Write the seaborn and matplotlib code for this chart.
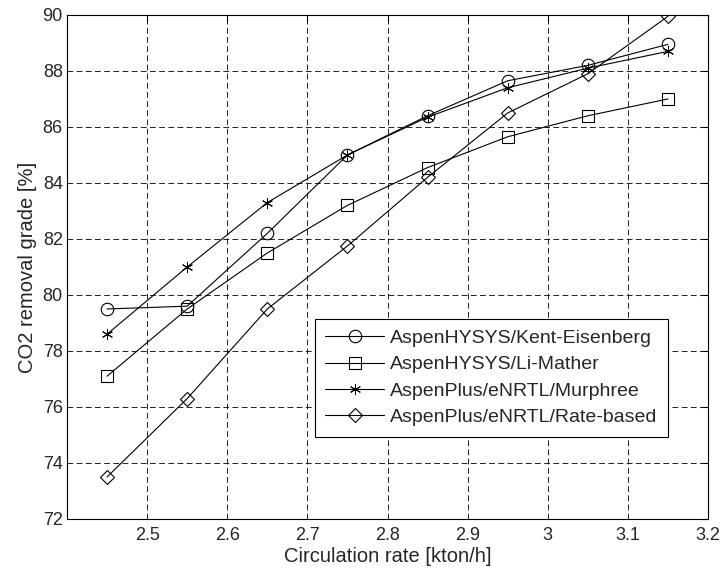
import matplotlib
matplotlib.use("Agg")
import matplotlib.pyplot as plt
import seaborn as sns
import pandas as pd

circulation_rate = [2.45, 2.55, 2.65, 2.75, 2.85, 2.95, 3.05, 3.15]
kent_eisenberg = [79.5, 79.6, 82.2, 85.0, 86.4, 87.65, 88.2, 88.95]
li_mather = [77.1, 79.5, 81.5, 83.2, 84.55, 85.65, 86.4, 87.0]
murphree = [78.6, 81.0, 83.3, 85.0, 86.35, 87.4, 88.1, 88.7]
rate_based = [73.5, 76.3, 79.5, 81.75, 84.2, 86.5, 87.9, 89.95]

series_names = ["AspenHYSYS/Kent-Eisenberg", "AspenHYSYS/Li-Mather",
                "AspenPlus/eNRTL/Murphree", "AspenPlus/eNRTL/Rate-based"]
series_values = [kent_eisenberg, li_mather, murphree, rate_based]
markers = ["o", "s", "*", "D"]
msizes = [9, 9, 8, 7]

x_ticks = [2.5, 2.6, 2.7, 2.8, 2.9, 3.0, 3.1, 3.2]
x_ticklabels = ["2.5", "2.6", "2.7", "2.8", "2.9", "3", "3.1", "3.2"]
y_ticks = [72, 74, 76, 78, 80, 82, 84, 86, 88, 90]

sns.set_style("white")
plt.rcParams['font.family'] = ['Liberation Sans', 'DejaVu Sans']

fig = plt.figure(figsize=(7.25, 5.75), dpi=100)
ax = fig.add_axes([0.0924, 0.0974, 0.8842, 0.8766])

for name, vals, mk, ms in zip(series_names, series_values, markers, msizes):
    df = pd.DataFrame({"x": circulation_rate, "y": vals})
    if mk == "*":
        sns.lineplot(data=df, x="x", y="y", ax=ax, color="black", lw=0.8,
                     marker=(6, 2, 0), markersize=ms, markeredgecolor="black",
                     markeredgewidth=0.7, label=name)
    else:
        sns.lineplot(data=df, x="x", y="y", ax=ax, color="black", lw=0.8,
                     marker=mk, markersize=ms, markerfacecolor="none",
                     markeredgecolor="black", markeredgewidth=0.8, label=name)

ax.set_xlim(2.4, 3.2)
ax.set_ylim(72, 90)
ax.set_xticks(x_ticks)
ax.set_xticklabels(x_ticklabels)
ax.set_yticks(y_ticks)
ax.grid(True, color="black", linestyle=(0, (7, 4)), linewidth=0.6)
ax.tick_params(direction="in", labelsize=13, length=4, color="black",
               top=True, right=True)
ax.tick_params(axis="x", pad=6)
ax.tick_params(axis="y", pad=3)
for s in ax.spines.values():
    s.set_color("black")
    s.set_linewidth(0.8)
ax.set_xlabel("Circulation rate [kton/h]", fontsize=14.5, labelpad=2)
ax.set_ylabel("CO2 removal grade [%]", fontsize=14.5, labelpad=4)

leg = ax.legend(loc="lower right", bbox_to_anchor=(0.937, 0.163), fontsize=14,
                frameon=True, fancybox=False, edgecolor="black",
                handlelength=3.0, borderpad=0.55, labelspacing=0.45,
                handletextpad=0.3, borderaxespad=0)
leg.get_frame().set_linewidth(0.8)
leg.get_frame().set_alpha(1)

fig.savefig("out.png", dpi=100)
